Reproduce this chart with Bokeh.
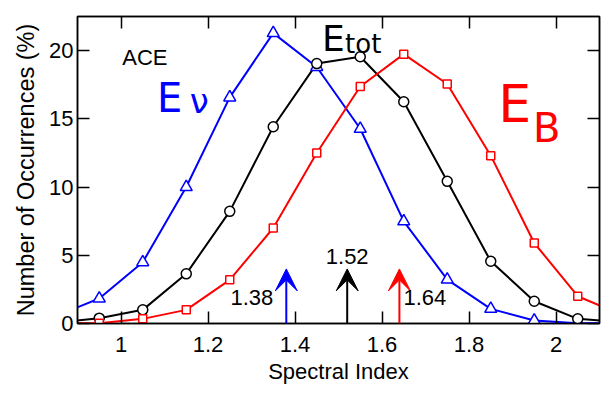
from bokeh.plotting import figure
from bokeh.models import (Range1d, LinearAxis, FixedTicker, Arrow, VeeHead, Label,
                          ColumnDataSource)
from bokeh.embed import file_html
from bokeh.resources import INLINE

# ---- data ----
spectral_index = [0.85, 0.95, 1.05, 1.15, 1.25, 1.35, 1.45, 1.55, 1.65, 1.75, 1.85, 1.95, 2.05, 2.15]
occ_ev  = [0.55, 1.83, 4.49, 10.0, 16.57, 21.28, 18.8, 14.27, 7.49, 3.22, 1.07, 0.22, 0.02, 0.0]
occ_tot = [0.05, 0.39, 1.0, 3.64, 8.22, 14.42, 19.05, 19.55, 16.25, 10.42, 4.56, 1.63, 0.34, 0.1]
occ_eb  = [0.0, 0.02, 0.34, 1.0, 3.2, 7.0, 12.5, 17.37, 19.74, 17.55, 12.3, 5.9, 2.0, 0.64]

median_x = [1.38, 1.52, 1.64]
median_labels = ["1.38", "1.52", "1.64"]
arrow_top = 4.0

x_ticks = [1.0, 1.2, 1.4, 1.6, 1.8, 2.0]
y_ticks = [0, 5, 10, 15, 20]

FONT = "Liberation Sans"
FS = "22px"

p = figure(width=605, height=394, output_backend="svg", toolbar_location=None,
           x_range=Range1d(0.9, 2.1), y_range=Range1d(0, 22.5),
           min_border_left=77, min_border_right=6, min_border_top=16, min_border_bottom=71,
           x_axis_label="Spectral Index", y_axis_label="Number of Occurrences (%)")
p.grid.visible = False
p.outline_line_color = "black"
p.outline_line_width = 1.5
p.background_fill_color = "white"
p.border_fill_color = "white"

def style_axis(ax, labels=True):
    ax.axis_line_color = "black"
    ax.axis_line_width = 1.5
    ax.major_tick_in = 12
    ax.major_tick_out = 0
    ax.major_tick_line_width = 1.5
    ax.minor_tick_line_color = None
    ax.major_label_text_font = FONT
    ax.major_label_text_font_size = FS
    ax.major_label_text_color = "black"
    ax.axis_label_text_font = FONT
    ax.axis_label_text_font_size = FS
    ax.axis_label_text_font_style = "normal"
    ax.axis_label_text_color = "black"

p.xaxis.ticker = FixedTicker(ticks=x_ticks)
p.yaxis.ticker = FixedTicker(ticks=y_ticks)
for ax in p.xaxis + p.yaxis:
    style_axis(ax)
p.xaxis.major_label_standoff = 13
p.yaxis.major_label_standoff = 4
p.xaxis.axis_label_standoff = 4
p.yaxis.axis_label_standoff = 7
p.yaxis.axis_label_text_font_size = "23.5px"
p.xaxis.major_label_overrides = {1.0: "1", 2.0: "2"}

top = LinearAxis(ticker=FixedTicker(ticks=x_ticks))
right = LinearAxis(ticker=FixedTicker(ticks=y_ticks))
for ax, ticks in ((top, x_ticks), (right, y_ticks)):
    style_axis(ax, labels=False)
    ax.major_label_overrides = {t: "" for t in ticks}
    ax.major_label_standoff = 0
p.add_layout(top, "above")
p.add_layout(right, "right")

src = ColumnDataSource(dict(x=spectral_index, ev=occ_ev, tot=occ_tot, eb=occ_eb))
p.line("x", "ev", source=src, color="blue", line_width=2)
p.line("x", "tot", source=src, color="black", line_width=2)
p.line("x", "eb", source=src, color="red", line_width=2)
p.scatter("x", "ev", source=src, marker="triangle", size=12, line_color="blue",
          fill_color="white", line_width=1.5)
p.scatter("x", "tot", source=src, marker="circle", size=10, line_color="black",
          fill_color="white", line_width=1.5)
p.scatter("x", "eb", source=src, marker="square", size=8, line_color="red",
          fill_color="white", line_width=1.5)

arrow_colors = ["blue", "black", "red"]
label_offsets = [(-13, -29, "right"), (0, 12, "center"), (4, -29, "left")]
for xm, lab, c, (dx, dy, al) in zip(median_x, median_labels, arrow_colors, label_offsets):
    p.add_layout(Arrow(x_start=xm, y_start=0, x_end=xm, y_end=arrow_top,
                       line_color=c, line_width=2,
                       end=VeeHead(size=22, fill_color=c, line_color=c, line_width=1)))
    p.add_layout(Label(x=xm, y=arrow_top, text=lab, x_offset=dx, y_offset=dy,
                       text_align=al, text_baseline="middle", text_font=FONT,
                       text_font_size=FS, text_color="black"))

p.add_layout(Label(x=1.003, y=19.47, text="ACE", text_baseline="middle",
                   text_font=FONT, text_font_size=FS, text_color="black"))

# hand-written annotations
annots = [
    ("E", 1.083, 16.55, "40px", "blue"), ("ν", 1.158, 16.3, "34px", "blue"),
    ("E", 1.462, 20.86, "36px", "black"), ("tot", 1.515, 20.45, "26px", "black"),
    ("E", 1.867, 16.1, "52px", "red"), ("B", 1.947, 14.3, "40px", "red"),
]
for t, xx, yy, fs, c in annots:
    p.add_layout(Label(x=xx, y=yy, text=t, text_baseline="alphabetic",
                       text_font="DejaVu Sans", text_font_size=fs, text_color=c,
                       text_font_style="normal"))

open("out.html", "w").write(file_html(p, INLINE))
